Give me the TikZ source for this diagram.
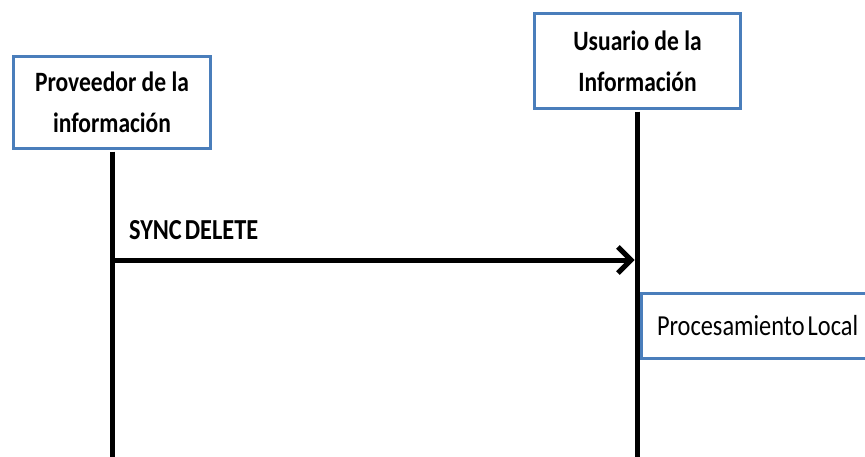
\documentclass[tikz,border=0pt]{standalone}
\usepackage{fontspec}
\setmainfont[FakeStretch=0.84]{Carlito}
\newfontfamily\tightfont[FakeStretch=0.84,WordSpace=0.55]{Carlito}
\usetikzlibrary{arrows.meta}
\definecolor{boxblue}{HTML}{4A7EBB}
\tikzset{
	actor/.style={draw=boxblue, line width=3pt, fill=white, align=center, inner sep=0pt, font=\fontsize{28}{41}\selectfont\bfseries},
	procbox/.style={draw=boxblue, line width=3pt, fill=white, align=flush left, inner xsep=16pt, font=\tightfont\fontsize{29}{34}\selectfont},
	lifeline/.style={line width=5pt},
	msglabel/.style={inner sep=0pt, font=\tightfont\fontsize{29}{34}\selectfont\bfseries},
}
\begin{document}
\begin{tikzpicture}[x=1pt,y=-1pt]
	\clip (0,0) rectangle (865,456);
	\fill[white] (0,0) rectangle (865,456);
	\node[actor, minimum width=197pt, minimum height=92pt] (prov) at (112,102.5) {Proveedor de la\\información};
	\node[actor, minimum width=206pt, minimum height=95pt] (usr) at (637.5,61) {Usuario de la\\Información};
	\coordinate (provEnd) at (prov.south |- 0,460);
	\coordinate (usrEnd) at (usr.south |- 0,460);
	\draw[lifeline] ([yshift=-1.5pt]prov.south) -- (provEnd);
	\draw[lifeline] ([yshift=-1.5pt]usr.south) -- (usrEnd);
	\coordinate (msgStart) at (prov.south |- 0,260);
	\coordinate (msgEnd) at (usr.south |- 0,260);
	\draw[lifeline, -{Straight Barb[length=13pt,width=26pt]}, shorten >=3pt] (msgStart) -- (msgEnd);
	\node[msglabel, anchor=base west] (sync) at (129,239) {SYNC DELETE};
	\node[procbox, anchor=north west, text width=220pt, minimum height=65pt] (proc) at (639.5,291.5) {Procesamiento Local};
\end{tikzpicture}
\end{document}
